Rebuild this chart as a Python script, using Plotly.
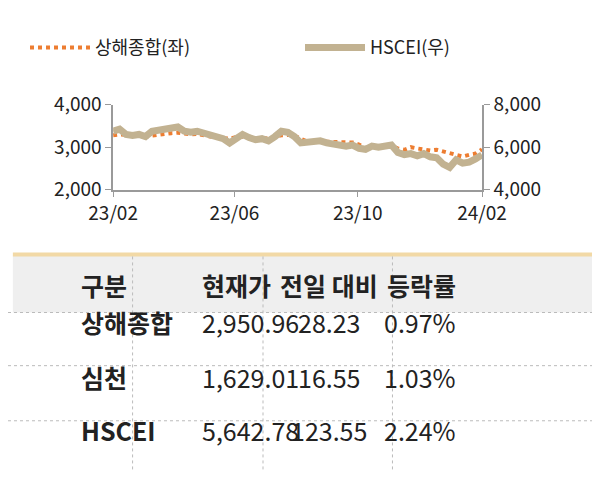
import plotly.graph_objects as go
import pandas as pd

sh_values = [3280, 3300, 3290, 3260,
             3290, 3250, 3270, 3300, 3310,
             3330, 3340, 3320, 3300,
             3310, 3290, 3250, 3220, 3210,
             3200, 3240, 3250, 3220, 3200,
             3220, 3200, 3240, 3280, 3290,
             3270, 3200, 3130, 3140, 3120,
             3130, 3120, 3110, 3100,
             3110, 3060, 2980, 3020, 3020,
             3030, 3050, 2970, 2940, 3000,
             2970, 2950, 2920, 2940,
             2900, 2880, 2830, 2780, 2820,
             2850, 2950]
hs_values = [6750, 6850, 6600, 6550,
             6600, 6500, 6750, 6800, 6850,
             6850, 6950, 6750, 6700,
             6750, 6650, 6600, 6500, 6400,
             6200, 6400, 6600, 6450, 6350,
             6400, 6300, 6500, 6750, 6700,
             6500, 6200, 6250, 6300, 6300,
             6200, 6150, 6100, 6050,
             6100, 5950, 5900, 6050, 6000,
             6050, 6100, 5750, 5650, 5700,
             5600, 5700, 5550, 5500,
             5200, 5050, 5400, 5250, 5300,
             5450, 5640]
dates = pd.date_range("2023-02-01", "2024-02-01", periods=len(sh_values))
tick_vals = ["2023-02-01", "2023-06-01", "2023-10-01", "2024-02-01"]
tick_text = ["23/02", "23/06", "23/10", "24/02"]

table_header = ["구분", "현재가", "전일 대비", "등락률"]
table_rows = [["상해종합", "2,950.96", "28.23", "0.97%"],
              ["심천", "1,629.01", "16.55", "1.03%"],
              ["HSCEI", "5,642.78", "123.55", "2.24%"]]

FONT = "Noto Sans CJK KR"
W, H = 600, 480
def py(p): return 1 - p / H
def px(p): return p / W

fig = go.Figure()
fig.add_trace(go.Scatter(x=dates, y=sh_values, name="상해종합(좌)", mode="lines",
                         line=dict(color="#ED7D31", width=4, dash="dot")))
fig.add_trace(go.Scatter(x=dates, y=hs_values, name="HSCEI(우)", mode="lines", yaxis="y2",
                         line=dict(color="#C2B291", width=7)))

ax = dict(showgrid=False, showline=True, linecolor="#9a9a9a", linewidth=1.5,
          ticks="outside", tickcolor="#9a9a9a", ticklen=6, automargin=False,
          tickfont=dict(family=FONT, size=19, color="#222"))
fig.update_layout(
    autosize=True, margin=dict(l=0, r=0, t=0, b=0, autoexpand=False),
    plot_bgcolor="white", paper_bgcolor="white",
    font=dict(family=FONT),
    xaxis=dict(**ax, domain=[px(108), px(487)], range=["2023-02-01", "2024-02-01"],
               tickvals=tick_vals, ticktext=tick_text, anchor="y"),
    yaxis=dict(**ax, domain=[py(188), py(100)], range=[2000, 4000],
               tickvals=[2000, 3000, 4000], tickformat=",", anchor="x"),
    yaxis2=dict(**ax, overlaying="y", side="right", range=[4000, 8000],
                tickvals=[4000, 6000, 8000], tickformat=",", anchor="x"),
    legend=dict(orientation="h", x=0.5, xanchor="center", y=py(22), yanchor="top",
                font=dict(family=FONT, size=18, color="#222"), itemwidth=60,
                entrywidth=200),
    showlegend=True,
)

shapes = []
shapes.append(dict(type="rect", xref="paper", yref="paper", x0=px(5), x1=1,
                   y0=py(315), y1=py(256), fillcolor="#EFEFEF", line=dict(width=0), layer="below"))
shapes.append(dict(type="line", xref="paper", yref="paper", x0=px(5), x1=1,
                   y0=py(255), y1=py(255), line=dict(color="#F2D9A6", width=4)))
for yy in [315, 370, 427]:
    shapes.append(dict(type="line", xref="paper", yref="paper", x0=0, x1=1,
                       y0=py(yy), y1=py(yy), line=dict(color="#bbbbbb", width=1, dash="dot")))
for xx in [128, 262, 395]:
    shapes.append(dict(type="line", xref="paper", yref="paper", x0=px(xx), x1=px(xx),
                       y0=py(257), y1=0, line=dict(color="#bbbbbb", width=1, dash="dot")))
fig.update_layout(shapes=shapes)

col_x = [73, 197, 330, 462]
row_y = [287, 345, 402, 457]
anns = []
for j, t in enumerate(table_header):
    anns.append(dict(text=f"<b>{t}</b>", x=px(col_x[j]), y=py(row_y[0]), xref="paper", yref="paper",
                     showarrow=False, font=dict(family=FONT, size=25, color="#222")))
for i, row in enumerate(table_rows):
    for j, t in enumerate(row):
        txt = f"<b>{t}</b>" if j == 0 else t
        anns.append(dict(text=txt, x=px(col_x[j]), y=py(row_y[i + 1]), xref="paper", yref="paper",
                         showarrow=False, font=dict(family=FONT, size=25, color="#222")))
fig.update_layout(annotations=anns)

fig.write_html("out.html", default_width="100%", default_height="100%",
               config={"responsive": True})
